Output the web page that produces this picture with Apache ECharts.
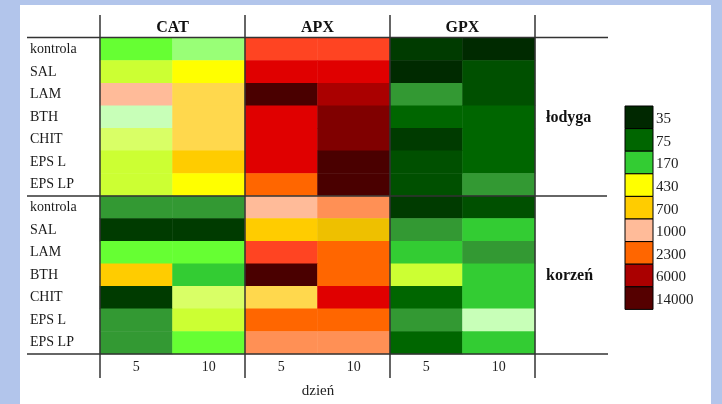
<!DOCTYPE html>
<html>
<head>
<meta charset="utf-8">
<script src="https://cdn.jsdelivr.net/npm/echarts@6/dist/echarts.min.js"></script>
<style>
  html, body { margin: 0; padding: 0; background: #b2c5eb; }
  #panel { position: absolute; left: 20px; top: 5px; width: 691px; height: 399px; background: #ffffff; }
  #chart { position: absolute; left: 0; top: 0; width: 722px; height: 404px; }
</style>
</head>
<body>
<div id="panel"></div>
<div id="chart"></div>
<script>
// ---- data ----
const rowLabels = ['kontrola', 'SAL', 'LAM', 'BTH', 'CHIT', 'EPS L', 'EPS LP'];
const dayLabels = ['5', '10', '5', '10', '5', '10'];
const enzymes = ['CAT', 'APX', 'GPX'];
const organs = ['łodyga', 'korzeń'];
const axisName = 'dzień';

// columns: CAT d5, CAT d10, APX d5, APX d10, GPX d5, GPX d10
const lodyga = [
  [220, 260, 3500, 3500, 36, 25],
  [380, 430, 5000, 5000, 25, 50],
  [1000, 550, 14000, 6500, 110, 50],
  [300, 560, 5000, 9000, 75, 75],
  [340, 560, 5000, 9500, 35, 75],
  [380, 700, 5000, 14000, 50, 75],
  [380, 430, 2300, 13000, 50, 110]
];
const korzen = [
  [110, 115, 1000, 1500, 36, 50],
  [36, 36, 700, 620, 110, 170],
  [220, 220, 3500, 2300, 170, 110],
  [700, 170, 14000, 2300, 380, 170],
  [35, 340, 550, 5000, 75, 170],
  [110, 380, 2300, 2300, 110, 300],
  [110, 220, 1500, 1500, 75, 170]
];

// colour scale
const scaleBreaks = [30, 40, 60, 90, 140, 200, 240, 280, 320, 360, 400, 500, 600, 650, 850, 1300, 1800, 3000, 4500, 6000, 8000, 11000];
const scaleColors = ['#002a00', '#003b00', '#005000', '#006600', '#339933', '#33cc33', '#66ff33', '#99ff77',
  '#c8ffb8', '#d9ff66', '#ccff33', '#ffff00', '#ffd84d', '#eec000', '#ffcc00', '#ffbb99', '#ff9055',
  '#ff6600', '#ff4422', '#e00000', '#aa0000', '#800000', '#4a0000'];

const legendLabels = ['35', '75', '170', '430', '700', '1000', '2300', '6000', '14000'];
const legendColors = ['#002800', '#006600', '#33cc33', '#ffff00', '#ffcc00', '#ffbb99', '#ff6600', '#aa0000', '#550000'];

// ---- build ----
const pieces = scaleColors.map((c, i) => {
  const p = { color: c };
  if (i > 0) p.gte = scaleBreaks[i - 1];
  if (i < scaleBreaks.length) p.lt = scaleBreaks[i];
  return p;
});

const allRows = lodyga.concat(korzen);
const yCats = rowLabels.concat(rowLabels);
const heatData = [];
allRows.forEach((row, yi) => row.forEach((v, xi) => heatData.push([xi, yi, v])));

// layout constants
const G = { left: 100, top: 38, width: 435, height: 316 };
const cellW = G.width / dayLabels.length;
const font = 'Liberation Serif';
const lineColor = '#333';

const graphics = [];
// horizontal rules
[[G.top - 0.5, 27, 608], [G.top + G.height / 2, 27, 607], [G.top + G.height, 27, 608]].forEach(h => {
  graphics.push({ type: 'line', z: 100, shape: { x1: h[1], y1: h[0], x2: h[2], y2: h[0] }, style: { stroke: lineColor, lineWidth: 1.5 } });
});
// vertical rules
for (let k = 0; k <= enzymes.length; k++) {
  const x = G.left + k * 2 * cellW;
  graphics.push({ type: 'line', z: 100, shape: { x1: x, y1: 15, x2: x, y2: 378 }, style: { stroke: lineColor, lineWidth: 1.5 } });
}
// enzyme headers
enzymes.forEach((e, k) => {
  graphics.push({ type: 'text', z: 100, x: G.left + (k * 2 + 1) * cellW, y: 28,
    style: { text: e, font: 'bold 16px "' + font + '"', fill: '#111', textAlign: 'center', textVerticalAlign: 'middle' } });
});
// organ labels
organs.forEach((o, k) => {
  graphics.push({ type: 'text', z: 100, x: 546, y: G.top + G.height / 4 * (2 * k + 1) + 1,
    style: { text: o, font: 'bold 16px "' + font + '"', fill: '#111', textAlign: 'left', textVerticalAlign: 'middle' } });
});
// axis name
graphics.push({ type: 'text', z: 100, x: G.left + G.width / 2 + 0.5, y: 391,
  style: { text: axisName, font: '15px "' + font + '"', fill: '#222', textAlign: 'center', textVerticalAlign: 'middle' } });
// legend
const lg = { x: 625, y: 106, w: 28, h: 22.6 };
legendLabels.forEach((l, i) => {
  graphics.push({ type: 'rect', z: 100, shape: { x: lg.x, y: lg.y + i * lg.h, width: lg.w, height: lg.h },
    style: { fill: legendColors[i], stroke: '#000', lineWidth: 1 } });
  graphics.push({ type: 'text', z: 100, x: lg.x + lg.w + 3, y: lg.y + (i + 0.5) * lg.h + 2,
    style: { text: l, font: '15px "' + font + '"', fill: '#222', textAlign: 'left', textVerticalAlign: 'middle' } });
});

const chart = echarts.init(document.getElementById('chart'), null, { renderer: 'canvas' });
chart.setOption({
  backgroundColor: 'transparent',
  animation: false,
  grid: { left: G.left, top: G.top, width: G.width, height: G.height, containLabel: false },
  xAxis: {
    type: 'category', data: dayLabels,
    axisLine: { show: false }, axisTick: { show: false }, splitLine: { show: false },
    axisLabel: { margin: 6, fontFamily: font, fontSize: 14, color: '#222', interval: 0 }
  },
  yAxis: {
    type: 'category', data: yCats, inverse: true,
    axisLine: { show: false }, axisTick: { show: false }, splitLine: { show: false },
    axisLabel: { margin: 70, align: 'left', fontFamily: font, fontSize: 14, color: '#1a1a1a', interval: 0 }
  },
  visualMap: { type: 'piecewise', show: false, dimension: 2, pieces: pieces },
  series: [{
    type: 'heatmap', data: heatData,
    itemStyle: { borderWidth: 0 },
    emphasis: { disabled: true }
  }],
  graphic: graphics
});
</script>
</body>
</html>
